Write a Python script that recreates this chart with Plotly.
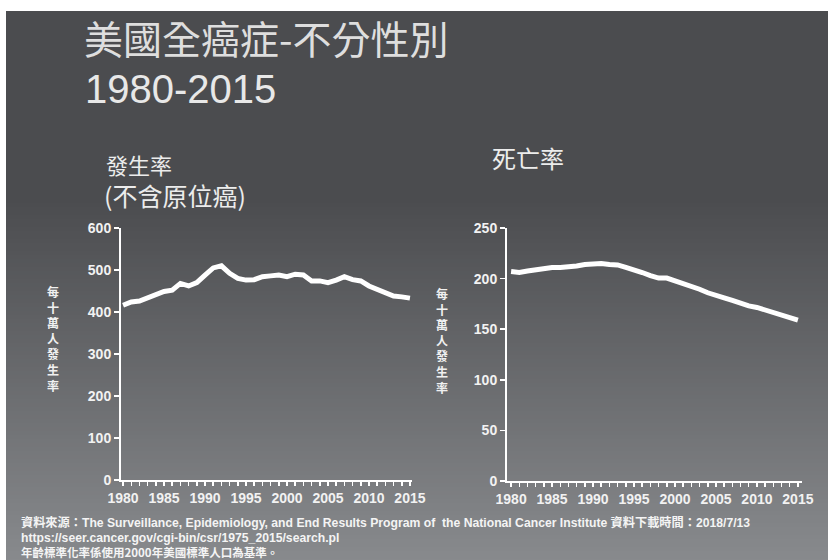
import plotly.graph_objects as go

# ---------------- data ----------------
years = list(range(1980, 2016))
incidence = [416, 424, 426, 434, 442, 449, 452, 468, 462, 470,
             488, 505, 510, 492, 480, 476, 477, 484, 486, 488,
             484, 490, 488, 474, 474, 470, 476, 484, 477, 474,
             462, 454, 444, 438, 436, 433]
mortality = [207, 206, 207.5, 209, 210, 211, 211, 211.5, 212.5, 214,
             215, 215, 214, 213.5, 211, 209, 206, 203, 200.5, 200.5,
             198, 195.5, 193, 189.5, 186, 184, 181, 178.5, 175.5, 173,
             171.5, 169, 166.5, 163.5, 161, 159]
x_tick_vals = [1980, 1985, 1990, 1995, 2000, 2005, 2010, 2015]
left_y_ticks = [0, 100, 200, 300, 400, 500, 600]
right_y_ticks = [0, 50, 100, 150, 200, 250]

title_main = "美國全癌症-不分性別"
title_years = "1980-2015"
left_title_1 = "發生率"
left_title_2 = "(不含原位癌)"
right_title = "死亡率"
y_label = "每十萬人發生率"
foot1 = "資料來源：The Surveillance, Epidemiology, and End Results Program of  the National Cancer Institute 資料下載時間：2018/7/13"
foot2 = "https://seer.cancer.gov/cgi-bin/csr/1975_2015/search.pl"
foot3 = "年齡標準化率係使用2000年美國標準人口為基準。"

# ---------------- figure ----------------
W, H = 828, 560
fig = go.Figure()

fig.add_trace(go.Scatter(x=years, y=incidence, mode="lines",
                         line=dict(color="white", width=5),
                         xaxis="x", yaxis="y", showlegend=False,
                         hoverinfo="skip"))
fig.add_trace(go.Scatter(x=years, y=mortality, mode="lines",
                         line=dict(color="white", width=5),
                         xaxis="x2", yaxis="y2", showlegend=False,
                         hoverinfo="skip"))

# background gradient bands (styling)
shapes = []
top_px, left_px = 11, 6
c_top = (75, 76, 79)
c_bot = (136, 138, 141)
flat_until = 200
band = 4
y = top_px
while y < H:
    y2 = min(y + band, H)
    mid = (y + y2) / 2
    t = 0.0 if mid <= flat_until else (mid - flat_until) / (H - flat_until)
    col = tuple(int(round(c_top[i] + (c_bot[i] - c_top[i]) * t)) for i in range(3))
    shapes.append(dict(type="rect", xref="paper", yref="paper",
                       x0=left_px / W, x1=1, y0=1 - min(y2 + 1, H) / H, y1=1 - y / H,
                       fillcolor="rgb(%d,%d,%d)" % col, line=dict(width=0),
                       layer="below"))
    y = y2

tickfont = dict(family="Liberation Sans, Arial", size=14, color="#f2f2f2", weight="bold")

def xaxis(domain, rng, anchor):
    return dict(domain=domain, range=rng, anchor=anchor, automargin=False,
                showgrid=False, zeroline=False,
                showline=True, linecolor="white", linewidth=2,
                ticks="outside", ticklen=4, tickwidth=1.5, tickcolor="white",
                tickvals=x_tick_vals, tickfont=tickfont,
                minor=dict(dtick=1, tick0=1980, ticks="outside", ticklen=4,
                           tickwidth=1.5, tickcolor="white", showgrid=False))

def yaxis(domain, rng, vals, anchor):
    return dict(domain=domain, range=rng, anchor=anchor, automargin=False,
                showgrid=False, zeroline=False,
                showline=True, linecolor="white", linewidth=2,
                ticks="outside", ticklen=5, tickwidth=1.5, tickcolor="white",
                tickvals=vals, tickfont=tickfont)

xa = xaxis([121 / W, 412 / W], [1979.75, 2015.25], "y")
xb = xaxis([507 / W, 802 / W], [1979.5, 2015.5], "y2")
ya = yaxis([80 / H, 332 / H], [0, 600], left_y_ticks, "x")
yb = yaxis([79 / H, 332 / H], [0, 250], right_y_ticks, "x2")

cjk = "Noto Sans CJK TC"

def ann(text, xpx, ypx, size, family=cjk, color="#e6e6e6", xanchor="left",
        yanchor="middle", weight="normal"):
    return dict(text=text, x=xpx / W, y=1 - ypx / H, xref="paper", yref="paper",
                xanchor=xanchor, yanchor=yanchor, showarrow=False, align="left",
                font=dict(family=family, size=size, color=color, weight=weight))

vert = "<br>".join(list(y_label))
annotations = [
    ann(title_main, 82, 37, 39, color="#dedede"),
    ann(title_years, 83, 89, 40, family="Liberation Sans, Arial", color="#e8e8e8"),
    ann(left_title_1, 104, 164, 22, color="#ececec"),
    ann(left_title_2, 102, 195, 25, color="#ececec"),
    ann(right_title, 490, 157, 24, color="#ececec"),
    dict(text=vert, x=53 / W, y=1 - 338 / H, xref="paper", yref="paper",
         xanchor="center", yanchor="middle", showarrow=False, align="center",
         font=dict(family=cjk, size=12, color="#f0f0f0", weight="bold")),
    dict(text=vert, x=442 / W, y=1 - 340 / H, xref="paper", yref="paper",
         xanchor="center", yanchor="middle", showarrow=False, align="center",
         font=dict(family=cjk, size=12, color="#f0f0f0", weight="bold")),
    ann(foot1, 19, 522, 12.2, family="Liberation Sans, " + cjk, color="#f4f4f4", weight="bold"),
    ann(foot2, 19, 538, 12.2, family="Liberation Sans, Arial", color="#f4f4f4", weight="bold"),
    ann(foot3, 19, 552, 11.5, family=cjk, color="#f4f4f4", weight="bold"),
]

fig.update_layout(
    template="none",
    width=W, height=H, autosize=False,
    margin=dict(l=0, r=0, t=0, b=0, pad=0),
    paper_bgcolor="white", plot_bgcolor="rgba(0,0,0,0)",
    xaxis=xa, yaxis=ya, xaxis2=xb, yaxis2=yb,
    shapes=shapes, annotations=annotations,
    showlegend=False,
)

fig.write_html("out.html",
               config={"displayModeBar": False, "staticPlot": True},
               post_script="document.body.style.margin='0';document.body.style.padding='0';"
                           "document.body.style.overflow='hidden';")
